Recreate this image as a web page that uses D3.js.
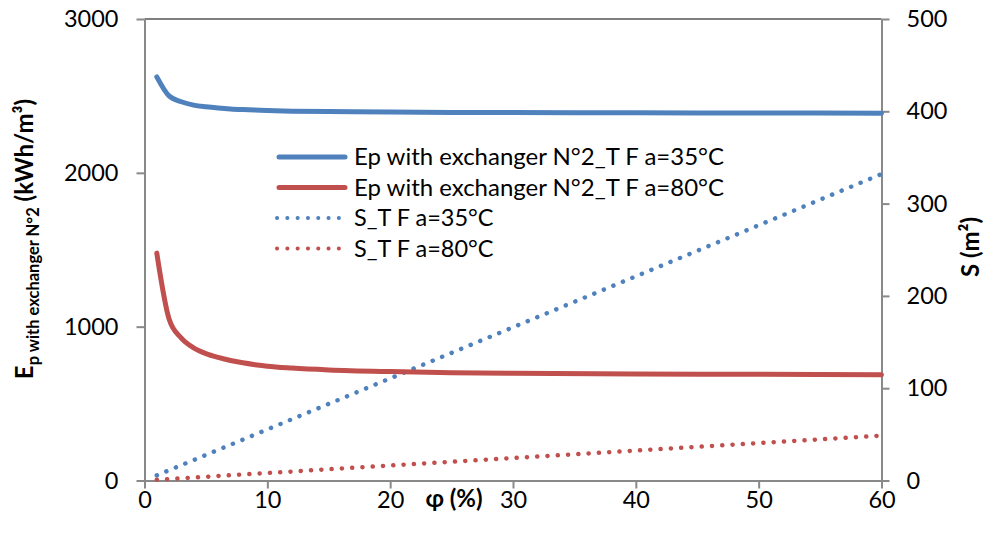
<!DOCTYPE html>
<html><head><meta charset="utf-8">
<script src="https://cdn.jsdelivr.net/npm/d3@7"></script>
<style>body{margin:0;background:#fff} text{font-family:Lato, "Open Sans", sans-serif; fill:#000}</style>
</head><body><svg id="c" width="984" height="533"></svg>
<script>
const phi   = [1,2,3,4,5,6,7,8,9,10,12,15,20,25,30,40,50,60];
const ep35  = [2624,2500,2462,2440,2429,2421,2415,2411,2408,2405,2401,2398,2395,2393,2392,2390,2389,2388];
const ep80  = [1478,1050,925,862,825,800,780,765,753,743,731,719,708,701,697,692,690,688];
const s35   = [5.5,11.1,16.6,22.1,27.7,33.2,38.7,44.2,49.8,55.3,66.4,83,110.6,138.3,166,221.2,276.5,332];
const s80   = [0.8,1.6,2.4,3.2,4.0,4.9,5.7,6.5,7.3,8.1,9.7,12.2,16.2,20.3,24.3,32.4,40.5,48.6];
const xTicks = [0,10,20,30,40,50,60];
const yLeftTicks = [0,1000,2000,3000];
const yRightTicks = [0,100,200,300,400,500];
const seriesNames = ["Ep with exchanger N°2_T F a=35°C","Ep with exchanger N°2_T F a=80°C","S_T F a=35°C","S_T F a=80°C"];
const colors = ["#4F81BD","#C0504D","#4F81BD","#C0504D"];

const svg = d3.select("#c");
const L=144.5, R=881.5, T=19, B=480.5;
const x = d3.scaleLinear().domain([0,60]).range([L,R]);
const yl = d3.scaleLinear().domain([0,3000]).range([B,T]);
const yr = d3.scaleLinear().domain([0,500]).range([B,T]);
const axisColor="#898989";
const fmt = d3.format("d");

function styleAxis(g){
  g.select(".domain").attr("stroke",axisColor).attr("stroke-width",2);
  g.selectAll(".tick line").attr("stroke",axisColor).attr("stroke-width",2);
  g.selectAll(".tick text").style("font-size","23.5px").attr("fill","#000");
}
svg.append("line").attr("x1",L).attr("x2",R).attr("y1",T).attr("y2",T).attr("stroke","#000").attr("stroke-width",1.2);

svg.append("g").attr("transform",`translate(0,${B})`)
  .call(d3.axisBottom(x).tickValues(xTicks).tickFormat(fmt).tickSize(8).tickSizeOuter(0).tickPadding(3))
  .call(styleAxis);
svg.append("g").attr("transform",`translate(${L},0)`)
  .call(d3.axisLeft(yl).tickValues(yLeftTicks).tickFormat(fmt).tickSize(8).tickSizeOuter(0).tickPadding(18))
  .call(styleAxis);
svg.append("g").attr("transform",`translate(${R},0)`)
  .call(d3.axisRight(yr).tickValues(yRightTicks).tickFormat(fmt).tickSize(8).tickSizeOuter(0).tickPadding(17))
  .call(styleAxis);

const lineL = d3.line().curve(d3.curveMonotoneX).x((d,i)=>x(phi[i])).y(d=>yl(d));
const lineR = d3.line().x((d,i)=>x(phi[i])).y(d=>yr(d));

function solid(sel,color){ sel.attr("fill","none").attr("stroke",color).attr("stroke-width",5).attr("stroke-linejoin","round").attr("stroke-linecap","round"); }
function dotted(sel,color){ sel.attr("fill","none").attr("stroke",color).attr("stroke-width",4.5).attr("stroke-linecap","round").attr("stroke-dasharray","0.1 10.2"); }

svg.append("path").datum(s35).attr("d",lineR).call(dotted,colors[2]);
svg.append("path").datum(s80).attr("d",lineR).call(dotted,colors[3]);
svg.append("path").datum(ep35).attr("d",lineL).call(solid,colors[0]);
svg.append("path").datum(ep80).attr("d",lineL).call(solid,colors[1]);

const legY=[157,187.5,218,248.5];
seriesNames.forEach((n,i)=>{
  const g=svg.append("g");
  const ln=g.append("line").attr("x1",279).attr("x2",345).attr("y1",legY[i]).attr("y2",legY[i]);
  if(i<2) ln.call(solid,colors[i]); else ln.call(dotted,colors[i]).attr("x1",277).attr("stroke-width",4);
  g.append("text").attr("x",354).attr("y",legY[i]).attr("dy","0.35em").style("font-size","23.5px")
    .attr("textLength", i<2 ? 370 : null).attr("lengthAdjust","spacingAndGlyphs").text(n);
});

svg.append("text").attr("x",454).attr("y",507).attr("text-anchor","middle")
  .style("font-size","24px").style("font-weight","bold").text("φ (%)");

const lt=svg.append("text").attr("transform","translate(33,239) rotate(-90)").attr("text-anchor","middle")
  .style("font-weight","bold");
lt.append("tspan").style("font-size","24px").text("E");
lt.append("tspan").style("font-size","16.5px").attr("dy",6).text("p with exchanger N°2");
lt.append("tspan").style("font-size","24px").attr("dy",-6).text(" (kWh/m³)");

svg.append("text").attr("transform","translate(979,247) rotate(-90)").attr("text-anchor","middle")
  .style("font-size","24px").style("font-weight","bold").text("S (m²)");
</script></body></html>
